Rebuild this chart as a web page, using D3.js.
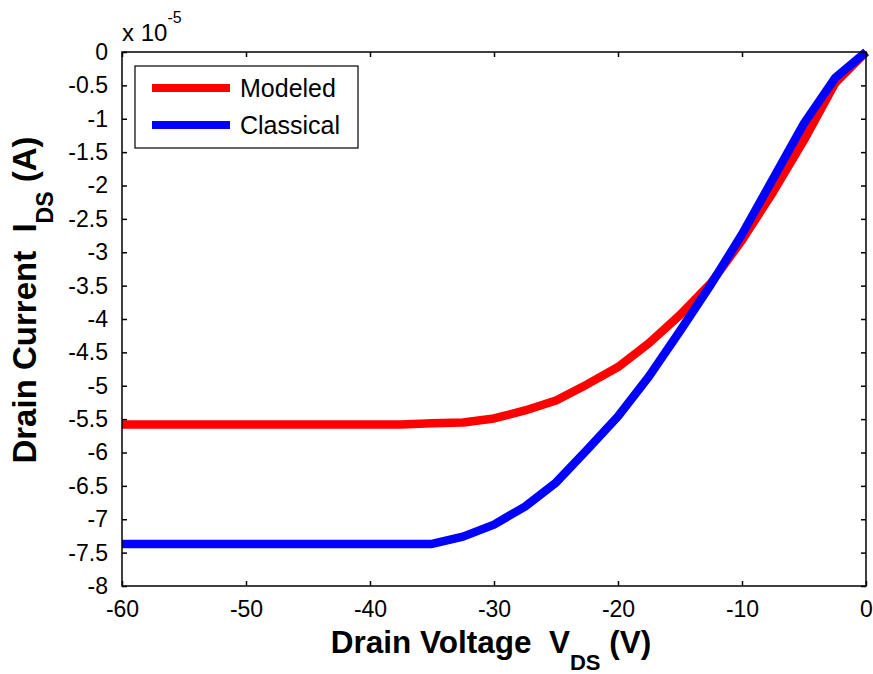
<!DOCTYPE html>
<html>
<head>
<meta charset="utf-8">
<script src="https://cdn.jsdelivr.net/npm/d3@7"></script>
<style>
  body { margin: 0; background: #fff; }
  svg text { font-family: Arial, "Liberation Sans", sans-serif; }
</style>
</head>
<body>
<svg id="chart" width="873" height="674"></svg>
<script>
// drain voltage (V), step 2.5
const vds = [-60, -57.5, -55, -52.5, -50, -47.5, -45, -42.5, -40, -37.5, -35, -32.5, -30, -27.5, -25,
  -22.5, -20, -17.5, -15, -12.5, -10, -7.5, -5, -2.5, 0];
// drain current, units of 1e-5 A
const modeled = [-5.58, -5.58, -5.58, -5.58, -5.58, -5.58, -5.58, -5.58, -5.58, -5.58, -5.56, -5.55, -5.49, -5.37, -5.22,
  -4.98, -4.72, -4.36, -3.94, -3.46, -2.82, -2.1, -1.32, -0.47, 0];
const classical = [-7.37, -7.37, -7.37, -7.37, -7.37, -7.37, -7.37, -7.37, -7.37, -7.37, -7.37, -7.26, -7.08, -6.81, -6.45,
  -5.96, -5.46, -4.86, -4.18, -3.48, -2.73, -1.9, -1.07, -0.39, 0];
const xTicks = [-60, -50, -40, -30, -20, -10, 0];
const yTicks = d3.range(0, 17).map(i => -i * 0.5);
const seriesNames = ["Modeled", "Classical"];
const seriesColors = ["#ff0000", "#0000ff"];

const svg = d3.select("#chart");
const margin = { left: 122, right: 7, top: 52, bottom: 88 };
const W = 873 - margin.left - margin.right;
const H = 674 - margin.top - margin.bottom;

const g = svg.append("g").attr("transform", `translate(${margin.left},${margin.top})`);

const x = d3.scaleLinear().domain([-60, 0]).range([0, W]);
const y = d3.scaleLinear().domain([-8, 0]).range([H, 0]);

// plain hyphen instead of unicode minus, like matlab
const fmt = d => String(d);

// lines
const line = d3.line().x((d, i) => x(vds[i])).y(d => y(d));
[modeled, classical].forEach((s, k) => {
  g.append("path")
    .datum(s)
    .attr("d", line)
    .attr("fill", "none")
    .attr("stroke", seriesColors[k])
    .attr("stroke-width", 8.5)
    .attr("stroke-linejoin", "round");
});

// axes, ticks inside
const tickLen = 5;
g.append("g").attr("transform", `translate(0,${H})`)
  .call(d3.axisBottom(x).tickValues(xTicks).tickSizeInner(-tickLen).tickSizeOuter(0).tickPadding(15).tickFormat(fmt))
  .call(a => a.select(".domain").remove());
g.append("g")
  .call(d3.axisTop(x).tickValues(xTicks).tickSizeInner(-tickLen).tickSizeOuter(0).tickFormat(""))
  .call(a => a.select(".domain").remove());
g.append("g")
  .call(d3.axisLeft(y).tickValues(yTicks).tickSizeInner(-tickLen).tickSizeOuter(0).tickPadding(14).tickFormat(fmt))
  .call(a => a.select(".domain").remove());
g.append("g").attr("transform", `translate(${W},0)`)
  .call(d3.axisRight(y).tickValues(yTicks).tickSizeInner(-tickLen).tickSizeOuter(0).tickFormat(""))
  .call(a => a.select(".domain").remove());

g.selectAll(".tick line").attr("stroke", "#000").attr("stroke-width", 1.5);
g.selectAll(".tick text").attr("font-size", 23).attr("fill", "#000")
  .attr("font-family", "Arial, 'Liberation Sans', sans-serif");

g.append("rect")
  .attr("width", W).attr("height", H)
  .attr("fill", "none").attr("stroke", "#000").attr("stroke-width", 1.5);

// exponent
const ex = svg.append("text").attr("x", 122).attr("y", 41).attr("font-size", 24);
ex.append("tspan").text("x 10");
ex.append("tspan").attr("dy", -18).attr("font-size", 16).text("-5");

// legend
const leg = svg.append("g").attr("transform", "translate(135,66)");
leg.append("rect").attr("width", 223).attr("height", 82)
  .attr("fill", "#fff").attr("stroke", "#000").attr("stroke-width", 1.2);
seriesNames.forEach((name, i) => {
  leg.append("line")
    .attr("x1", 17).attr("x2", 95)
    .attr("y1", 22 + i * 37).attr("y2", 22 + i * 37)
    .attr("stroke", seriesColors[i]).attr("stroke-width", 8);
  leg.append("text")
    .attr("x", 105).attr("y", 31 + i * 37)
    .attr("font-size", 25).text(name);
});

// axis labels
const xl = svg.append("text")
  .attr("x", 491).attr("y", 653)
  .attr("text-anchor", "middle")
  .attr("xml:space", "preserve")
  .attr("font-size", 31.5).attr("font-weight", "bold");
xl.append("tspan").text("Drain Voltage  V");
xl.append("tspan").attr("font-size", 22).attr("dy", 17).text("DS");
xl.append("tspan").attr("dy", -17).text(" (V)");

const yl = svg.append("text")
  .attr("transform", "translate(36,300) rotate(-90)")
  .attr("text-anchor", "middle")
  .attr("xml:space", "preserve")
  .attr("font-size", 33).attr("font-weight", "bold");
yl.append("tspan").text("Drain Current  I");
yl.append("tspan").attr("font-size", 23).attr("dy", 17).text("DS");
yl.append("tspan").attr("dy", -17).text(" (A)");
</script>
</body>
</html>
